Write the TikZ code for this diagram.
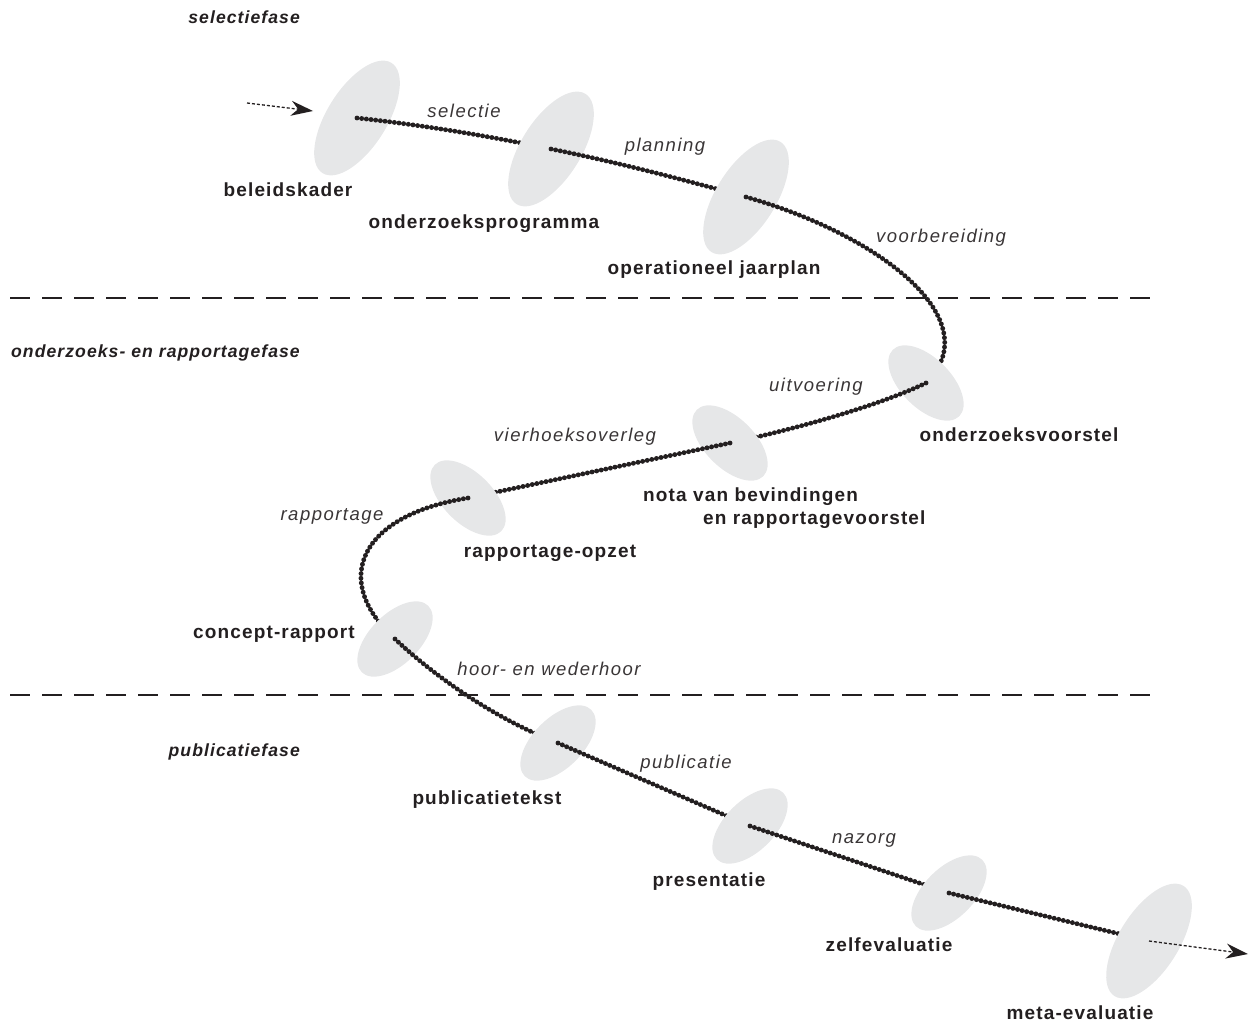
\documentclass[tikz,border=0pt]{standalone}
\usepackage{fontspec}
\setmainfont{Liberation Sans}
\newfontfamily\lblfont{Liberation Sans}[LetterSpace=6]
\newfontfamily\actfont{Liberation Sans}[LetterSpace=8]
\usetikzlibrary{arrows.meta}
\definecolor{ellgray}{RGB}{230,231,232}
\definecolor{ink}{RGB}{35,31,32}
\begin{document}
\begin{tikzpicture}[x=1pt,y=-1pt,
  stage/.style={font=\lblfont\fontsize{19}{23}\selectfont\bfseries, text=ink, inner sep=0pt},
  act/.style={font=\actfont\fontsize{18.5}{22}\selectfont\itshape, text=ink!90, inner sep=0pt},
  phase/.style={font=\lblfont\fontsize{17.6}{21}\selectfont\bfseries\itshape, text=ink, inner sep=0pt, anchor=east},
  dots/.style={draw=ink, line width=4.9pt, line cap=round, dash pattern=on 0pt off 4.7pt},
  sep/.style={draw=ink, line width=2pt, dash pattern=on 20pt off 12pt},
  flow/.style={draw=ink, line width=1.3pt, dash pattern=on 3pt off 2pt, -{Stealth[length=22pt,width=15pt,inset=7pt,line width=0pt]}}
]
\useasboundingbox (0,0) rectangle (1249,1025);

% coordinates of the stages
\coordinate (e1) at (357,118);
\coordinate (e2) at (551,149);
\coordinate (e3) at (746,197);
\coordinate (e4) at (926,383);
\coordinate (e5) at (730,443);
\coordinate (e6) at (468,498);
\coordinate (e7) at (395,639);
\coordinate (e8) at (558,743);
\coordinate (e9) at (750,826);
\coordinate (e10) at (949,893);
\coordinate (e11) at (1149,941);
\coordinate (in0) at (247,103);
\coordinate (in1) at (313,111);
\coordinate (out) at (1248,954);
\coordinate (s1a) at (10,298);
\coordinate (s1b) at (1155,298);
\coordinate (s2a) at (10,695);
\coordinate (s2b) at (1155,695);

% phase separators
\draw[sep] (s1a) -- (s1b);
\draw[sep] (s2a) -- (s2b);

% phase titles
\node[phase] (p1) at (300,17) {selectiefase};
\node[phase] (p2) at (300,353) {onderzoeks- en rapportagefase};
\node[phase] (p3) at (300,752) {publicatiefase};

% incoming arrow
\draw[flow] (in0) -- (in1);

% stages and paths
\fill[ellgray, rotate around={58:(e1)}] (e1) ellipse [x radius=65, y radius=30];
\draw[dots] (e1) .. controls (422,125) and (486,135.5) .. (e2);
\fill[ellgray, rotate around={58:(e2)}] (e2) ellipse [x radius=65, y radius=30];
\draw[dots] (e2) .. controls (616,162) and (681,179) .. (e3);
\fill[ellgray, rotate around={58:(e3)}] (e3) ellipse [x radius=65, y radius=30];
\draw[dots] (e3) .. controls (880,235) and (990,320) .. (e4);
\fill[ellgray, rotate around={-45:(e4)}] (e4) ellipse [x radius=47, y radius=25];
\draw[dots] (e4) .. controls (880,405) and (800,428) .. (e5);
\fill[ellgray, rotate around={-45:(e5)}] (e5) ellipse [x radius=47, y radius=25];
\draw[dots] (e5) -- (e6);
\fill[ellgray, rotate around={-45:(e6)}] (e6) ellipse [x radius=47, y radius=25];
\draw[dots] (e6) .. controls (360,515) and (330,580) .. (e7);
\fill[ellgray, rotate around={45:(e7)}] (e7) ellipse [x radius=47, y radius=25];
\draw[dots] (e7) .. controls (430,672) and (490,717) .. (e8);
\fill[ellgray, rotate around={45:(e8)}] (e8) ellipse [x radius=47, y radius=25];
\draw[dots] (e8) -- (e9);
\fill[ellgray, rotate around={45:(e9)}] (e9) ellipse [x radius=47, y radius=25];
\draw[dots] (e9) -- (e10);
\fill[ellgray, rotate around={45:(e10)}] (e10) ellipse [x radius=47, y radius=25];
\draw[dots] (e10) -- (e11);
\fill[ellgray, rotate around={58:(e11)}] (e11) ellipse [x radius=65, y radius=30];
\draw[flow] (e11) -- (out);

% stage labels
\node[stage] (l1) at (288,190) {beleidskader};
\node[stage] (l2) at (484,224) {onderzoeksprogramma};
\node[stage] (l3) at (714,270) {operationeel jaarplan};
\node[stage] (l4) at (1019,435) {onderzoeksvoorstel};
\node[stage, anchor=west, align=left] (l5) at (643,508) {nota van bevindingen\\\hspace*{60pt}en rapportagevoorstel};
\node[stage] (l6) at (550,553) {rapportage-opzet};
\node[stage] (l7) at (274,634) {concept-rapport};
\node[stage] (l8) at (487,800) {publicatietekst};
\node[stage] (l9) at (709,882) {presentatie};
\node[stage] (l10) at (889,945) {zelfevaluatie};
\node[stage] (l11) at (1080,1013) {meta-evaluatie};

% activity labels
\node[act] (a1) at (464,111) {selectie};
\node[act] (a2) at (665,147) {planning};
\node[act] (a3) at (941,238) {voorbereiding};
\node[act] (a4) at (816,387) {uitvoering};
\node[act] (a5) at (575,437) {vierhoeksoverleg};
\node[act] (a6) at (332,516) {rapportage};
\node[act] (a7) at (549,669) {hoor- en wederhoor};
\node[act] (a8) at (686,764) {publicatie};
\node[act] (a9) at (864,840) {nazorg};
\end{tikzpicture}
\end{document}
